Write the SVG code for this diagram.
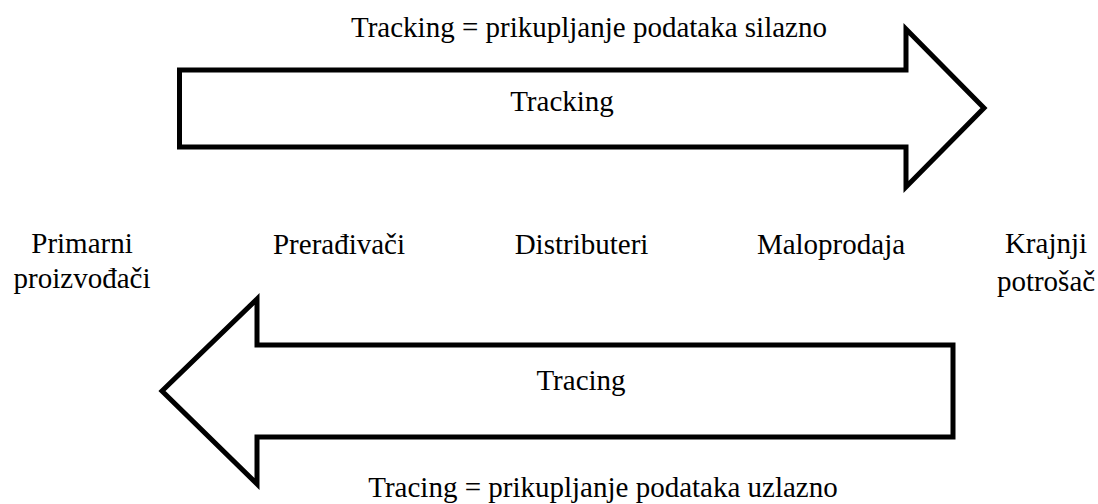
<svg xmlns="http://www.w3.org/2000/svg" width="1098" height="504" viewBox="0 0 1098 504">
<style>
text{font-family:'Liberation Serif','Times New Roman',Tinos,'DejaVu Serif',serif;font-size:29px;fill:#000;text-anchor:middle}
.arr{fill:#fff;stroke:#000;stroke-width:5;stroke-linejoin:miter;stroke-miterlimit:10}
</style>
<rect width="1098" height="504" fill="#fff"/>
<g id="connectors">
<g id="tracking-arrow">
<polygon class="arr" points="179.5,70 906,70 906,29 984,108 906,187 906,147 179.5,147"/>
<text x="562" y="111">Tracking</text>
</g>
<g id="tracing-arrow">
<polygon class="arr" points="953,345 257,345 257,299 162,391 257,484 257,437 953,437"/>
<text x="581" y="390">Tracing</text>
</g>
</g>
<g id="title-top"><text x="589" y="37">Tracking = prikupljanje podataka silazno</text></g>
<g id="title-bottom"><text x="603" y="497">Tracing = prikupljanje podataka uzlazno</text></g>
<g id="n-primarni"><text x="82" y="253">Primarni</text><text x="82" y="288">proizvođači</text></g>
<g id="n-preradivaci"><text x="339" y="254">Prerađivači</text></g>
<g id="n-distributeri"><text x="581.5" y="254">Distributeri</text></g>
<g id="n-maloprodaja"><text x="831" y="254">Maloprodaja</text></g>
<g id="n-krajnji"><text x="1046" y="253">Krajnji</text><text x="1046" y="291">potrošač</text></g>
</svg>
